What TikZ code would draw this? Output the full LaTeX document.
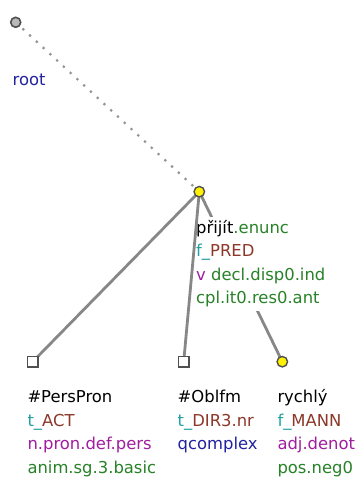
\documentclass[tikz,border=0pt]{standalone}
\usepackage{fontspec}
\setmainfont{DejaVu Sans}
\definecolor{cteal}{RGB}{35,160,160}
\definecolor{cbrown}{RGB}{140,55,40}
\definecolor{cpurple}{RGB}{160,30,160}
\definecolor{cgreen}{RGB}{40,130,40}
\definecolor{cblue}{RGB}{35,35,160}
\definecolor{edgegray}{RGB}{135,135,135}
\definecolor{bordergray}{RGB}{80,80,80}
\begin{document}
\begin{tikzpicture}[x=1pt,y=-1pt,
  lbl/.style={anchor=base west,inner xsep=0pt,inner ysep=0pt,text height=16pt,text depth=7.5pt,fill=white,font=\fontsize{16.4}{20}\selectfont},
  rootnode/.style={circle,draw=bordergray,fill=gray!55,line width=1.6pt,minimum size=10pt,inner sep=0pt},
  ynode/.style={circle,draw=bordergray,fill=yellow,line width=1.4pt,minimum size=10.5pt,inner sep=0pt},
  sqnode/.style={rectangle,draw=bordergray,fill=white,line width=1.6pt,minimum size=10.5pt,inner sep=0pt},
  edge/.style={draw=edgegray,line width=2.8pt},
  rootedge/.style={draw=edgegray!90,line width=2.2pt,dash pattern=on 2.2pt off 7pt}]
\useasboundingbox (0,0) rectangle (360,479);
% node positions
\coordinate (rootc) at (15.7,22.3);
\coordinate (predc) at (199.3,191.7);
\coordinate (persc) at (32.7,361.7);
\coordinate (oblc) at (183.7,361.7);
\coordinate (rychc) at (282.3,361.7);
% edge hidden behind the label block
\draw[edge] (predc) -- (rychc);
% labels
\node[lbl] (l-root) at (12.5,85) {\textcolor{cblue}{root}};
\node[lbl] (l-p1) at (196,233) {přijít\textcolor{cgreen}{.enunc}};
\node[lbl] (l-p2) at (196,256.5) {\textcolor{cteal}{f\_}\textcolor{cbrown}{PRED}};
\node[lbl] (l-p3) at (196,280) {\textcolor{cpurple}{v} \textcolor{cgreen}{decl.disp0.ind}};
\node[lbl] (l-p4) at (196,303.5) {\textcolor{cgreen}{cpl.it0.res0.ant}};
\node[lbl] (l-a1) at (27.3,402.5) {\#PersPron};
\node[lbl] (l-a2) at (27.3,426) {\textcolor{cteal}{t\_}\textcolor{cbrown}{ACT}};
\node[lbl] (l-a3) at (27.3,449.5) {\textcolor{cpurple}{n.pron.def.pers}};
\node[lbl] (l-a4) at (27.3,473) {\textcolor{cgreen}{anim.sg.3.basic}};
\node[lbl] (l-b1) at (177.5,402.5) {\#Oblfm};
\node[lbl] (l-b2) at (177.5,426) {\textcolor{cteal}{t\_}\textcolor{cbrown}{DIR3.nr}};
\node[lbl] (l-b3) at (177.5,449.5) {\textcolor{cblue}{qcomplex}};
\node[lbl] (l-c1) at (277.3,402.5) {rychlý};
\node[lbl] (l-c2) at (277.3,426) {\textcolor{cteal}{f\_}\textcolor{cbrown}{MANN}};
\node[lbl] (l-c3) at (277.3,449.5) {\textcolor{cpurple}{adj.denot}};
\node[lbl] (l-c4) at (277.3,473) {\textcolor{cgreen}{pos.neg0}};
% visible edges
\draw[rootedge] (rootc) -- (predc);
\draw[edge] (predc) -- (persc);
\draw[edge] (predc) -- (oblc);
% tree nodes
\node[rootnode] (root) at (rootc) {};
\node[ynode] (pred) at (predc) {};
\node[sqnode] (pers) at (persc) {};
\node[sqnode] (obl) at (oblc) {};
\node[ynode] (rych) at (rychc) {};
\end{tikzpicture}
\end{document}
